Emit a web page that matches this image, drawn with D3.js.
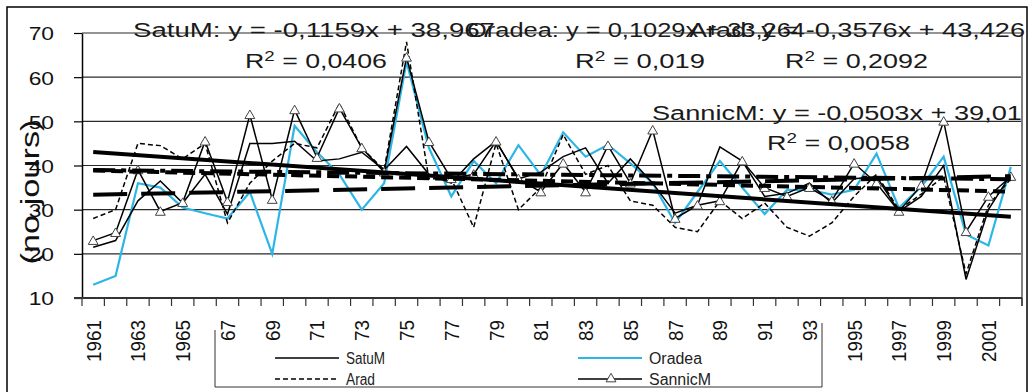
<!DOCTYPE html>
<html><head><meta charset="utf-8">
<script src="https://cdn.jsdelivr.net/npm/d3@7"></script>
<style>html,body{margin:0;padding:0;background:#fff;} svg{display:block;font-family:"Liberation Sans",Arial,sans-serif;}</style>
</head><body><svg id="c" width="1029" height="392"></svg>
<script>
// ---------- data ----------
const years = [1961,1962,1963,1964,1965,1966,1967,1968,1969,1970,1971,1972,1973,1974,1975,1976,1977,1978,1979,1980,1981,1982,1983,1984,1985,1986,1987,1988,1989,1990,1991,1992,1993,1994,1995,1996,1997,1998,1999,2000,2001,2002];
const satuM   = [21.5,23,32,36.5,31.5,38,29,45,45,45.5, 41,41.5,43,39,44.3,38,36,41.5,45.5,37, 38.5,42,44,36,41.5,36,29.2,31,44.2,41, 33,33.7,36,31.5,37,37.5,29.6,33,40,14.2, 30,38];
const oradea  = [13,15,36,35,30.5,29.2,28,34,20,49, 43,38,30,36,63.5,44,33,41,36,44.6, 37.8,47.5,42,44.7,40.5,36,27,34,41,35, 29,34.5,34.5,33.4,34.5,42.7,30.4,35.2,42,24.4, 21.9,39.7];
const arad    = [28,30,45,44.5,41.5,45,27,36,41,45, 44,54,44,39,68,37,37,26,45,30, 35,47,38,40,32,31,26,25,32,28, 31.5,26,24,27,33,38,30,33.5,37.5,15.5, 31,37];
const sannicM = [23,24.8,39,29.6,31.6,45.5,31.8,51.5,32.3,52.6, 41.8,53,44,38.5,64.5,45.4,37,38,45.5,37, 34,40.5,34,44.5,36,48,28,31,32,41, 35,33,35,32,40.5,36,29.6,35.5,50,25, 33,37.5];
const seriesNames = ["SatuM","Oradea","Arad","SannicM"];
const trendSlopes = [-0.1159, 0.1029, -0.3576, -0.0503];
const trendIntercepts = [38.967, 33.264, 43.426, 39.01];
const eqLabels = ["SatuM: y = -0,1159x + 38,967","Oradea: y = 0,1029x + 33,264","Arad: y = -0,3576x + 43,426","SannicM: y = -0,0503x + 39,01"];
const r2Labels = ["0,0406","0,019","0,2092","0,0058"];
const yTicks = [10,20,30,40,50,60,70];
const xTickYears = [1961,1963,1965,1967,1969,1971,1973,1975,1977,1979,1981,1983,1985,1987,1989,1991,1993,1995,1997,1999,2001];
const xTickLabels = ["1961","1963","1965","67","69","71","73","75","77","79","81","83","85","87","89","91","93","1995","1997","1999","2001"];
const yTitle = "(no.jours)";

// ---------- layout ----------
const L = 82, R = 1022, T = 33, B = 298;
const svg = d3.select("#c");
const x = d3.scaleBand().domain(years).range([L, R]).padding(0);
const cx = d => x(d) + x.bandwidth()/2;
const y = d3.scaleLinear().domain([10,70]).range([B, T]);

// outer frame
svg.append("rect").attr("x",7).attr("y",7).attr("width",1020).attr("height",400)
  .attr("fill","none").attr("stroke","#000").attr("stroke-width",1.5);

// gridlines
svg.append("g").selectAll("line").data(yTicks.filter(v=>v>10)).join("line")
  .attr("x1",L).attr("x2",R).attr("y1",d=>y(d)).attr("y2",d=>y(d))
  .attr("stroke","#2a2a2a").attr("stroke-width",1.2);
// right border of plot
svg.append("line").attr("x1",R).attr("x2",R).attr("y1",T).attr("y2",B+8)
  .attr("stroke","#808080").attr("stroke-width",2);

// y axis
const gy = svg.append("g").attr("transform",`translate(${L},0)`)
  .call(d3.axisLeft(y).tickValues(yTicks).tickSize(8).tickSizeOuter(0).tickFormat(d3.format("d")));
gy.select(".domain").attr("stroke","#000").attr("stroke-width",1.5);
gy.selectAll(".tick line").attr("stroke","#000").attr("stroke-width",1.2);
gy.selectAll(".tick text").attr("font-size",19).attr("fill","#111")
  .attr("font-family","Liberation Sans, Arial, sans-serif")
  .attr("x",(54-L)/1.2).attr("dy","0.36em").attr("transform","scale(1.2,1)");

// x axis line + boundary ticks
svg.append("line").attr("x1",L-8).attr("x2",R).attr("y1",B).attr("y2",B)
  .attr("stroke","#333").attr("stroke-width",2);
const bounds = years.map(d=>x(d)).concat([R]);
svg.append("g").selectAll("line").data(bounds).join("line")
  .attr("x1",d=>d).attr("x2",d=>d).attr("y1",B).attr("y2",B+8)
  .attr("stroke","#333").attr("stroke-width",1.2);
// x tick labels (rotated)
const lab = d3.scaleOrdinal().domain(xTickYears).range(xTickLabels);
svg.append("g").selectAll("text").data(xTickYears).join("text")
  .attr("transform",d=>`translate(${cx(d)},320) rotate(-90) scale(1.05,1.15)`)
  .attr("text-anchor","end").attr("dy","0.36em")
  .attr("font-size",18).attr("fill","#111").text(d=>lab(d));

// y title
svg.append("text").attr("transform","translate(30,192) rotate(-90)")
  .attr("text-anchor","middle").attr("dy","0.35em").attr("font-size",25)
  .attr("textLength",145).attr("lengthAdjust","spacingAndGlyphs")
  .attr("fill","#111").text(yTitle);

// series
const seriesData = [satuM, oradea, arad, sannicM];
const lineStyles = [
  {stroke:"#000", width:1.5, dash:null},
  {stroke:"#2cb6e6", width:2.2, dash:null},
  {stroke:"#000", width:1.5, dash:"5,3"},
  {stroke:"#000", width:1.5, dash:null}
];
const line = d3.line().x((d,i)=>cx(years[i])).y(d=>y(d));
const gS = svg.append("g");
[1,0,2,3].forEach(k=>{
  gS.append("path").datum(seriesData[k]).attr("d",line).attr("fill","none")
    .attr("stroke",lineStyles[k].stroke).attr("stroke-width",lineStyles[k].width)
    .attr("stroke-dasharray",lineStyles[k].dash).attr("stroke-linejoin","miter");
});
// triangle markers for SannicM
const tri = d3.symbol().type(d3.symbolTriangle).size(42);
gS.append("g").selectAll("path").data(sannicM).join("path")
  .attr("d",tri).attr("transform",(d,i)=>`translate(${cx(years[i])},${y(d)+1})`)
  .attr("fill","#fff").attr("stroke","#444").attr("stroke-width",1);

// trendlines
const trendDash = ["12,6", "34,14", null, "22,6,5,6"];
const gT = svg.append("g");
[1,3,0,2].forEach(k=>{
  const x1 = 1, x2 = years.length;
  gT.append("line")
    .attr("x1",cx(years[0])).attr("x2",cx(years[years.length-1]))
    .attr("y1",y(trendSlopes[k]*x1+trendIntercepts[k]))
    .attr("y2",y(trendSlopes[k]*x2+trendIntercepts[k]))
    .attr("stroke","#000").attr("stroke-width",4)
    .attr("stroke-dasharray",trendDash[k]);
});

// equation labels
const eqPos = [ {x:133,y:37,w:362}, {x:467,y:37,w:338}, {x:689,y:37,w:336}, {x:652,y:120,w:370} ];
const r2Pos = [ {x:245,y:68,w:142}, {x:575,y:68,w:130}, {x:785,y:68,w:143}, {x:767,y:150,w:143} ];
const gE = svg.append("g").attr("fill","#1a1a1a").attr("font-size",20);
eqLabels.forEach((t,k)=>{
  gE.append("text").attr("x",eqPos[k].x).attr("y",eqPos[k].y)
    .attr("textLength",eqPos[k].w).attr("lengthAdjust","spacingAndGlyphs").text(t);
  const tt = gE.append("text").attr("x",r2Pos[k].x).attr("y",r2Pos[k].y)
    .attr("textLength",r2Pos[k].w).attr("lengthAdjust","spacingAndGlyphs");
  tt.append("tspan").text("R");
  tt.append("tspan").attr("dy",-7).attr("font-size",14).text("2");
  tt.append("tspan").attr("dy",7).text(" = " + r2Labels[k]);
});

// legend
const gL = svg.append("g");
gL.append("path").attr("d","M215,330 V387 H822 V323").attr("fill","none")
  .attr("stroke","#333").attr("stroke-width",1);
const legItems = [
  {k:0, lx:275, ly:358},
  {k:1, lx:578, ly:358},
  {k:2, lx:275, ly:379},
  {k:3, lx:578, ly:379}
];
const legW = [39, 53, 29, 62];
legItems.forEach(it=>{
  const s = lineStyles[it.k];
  gL.append("line").attr("x1",it.lx).attr("x2",it.lx+64).attr("y1",it.ly).attr("y2",it.ly)
    .attr("stroke",s.stroke).attr("stroke-width",s.width).attr("stroke-dasharray",s.dash);
  if (it.k===3) gL.append("path").attr("d",tri).attr("transform",`translate(${it.lx+33},${it.ly})`)
    .attr("fill","#fff").attr("stroke","#444");
  gL.append("text").attr("x",it.lx+71).attr("y",it.ly+6).attr("font-size",16)
    .attr("textLength",legW[it.k]).attr("lengthAdjust","spacingAndGlyphs")
    .attr("fill","#222").text(seriesNames[it.k]);
});
</script></body></html>
